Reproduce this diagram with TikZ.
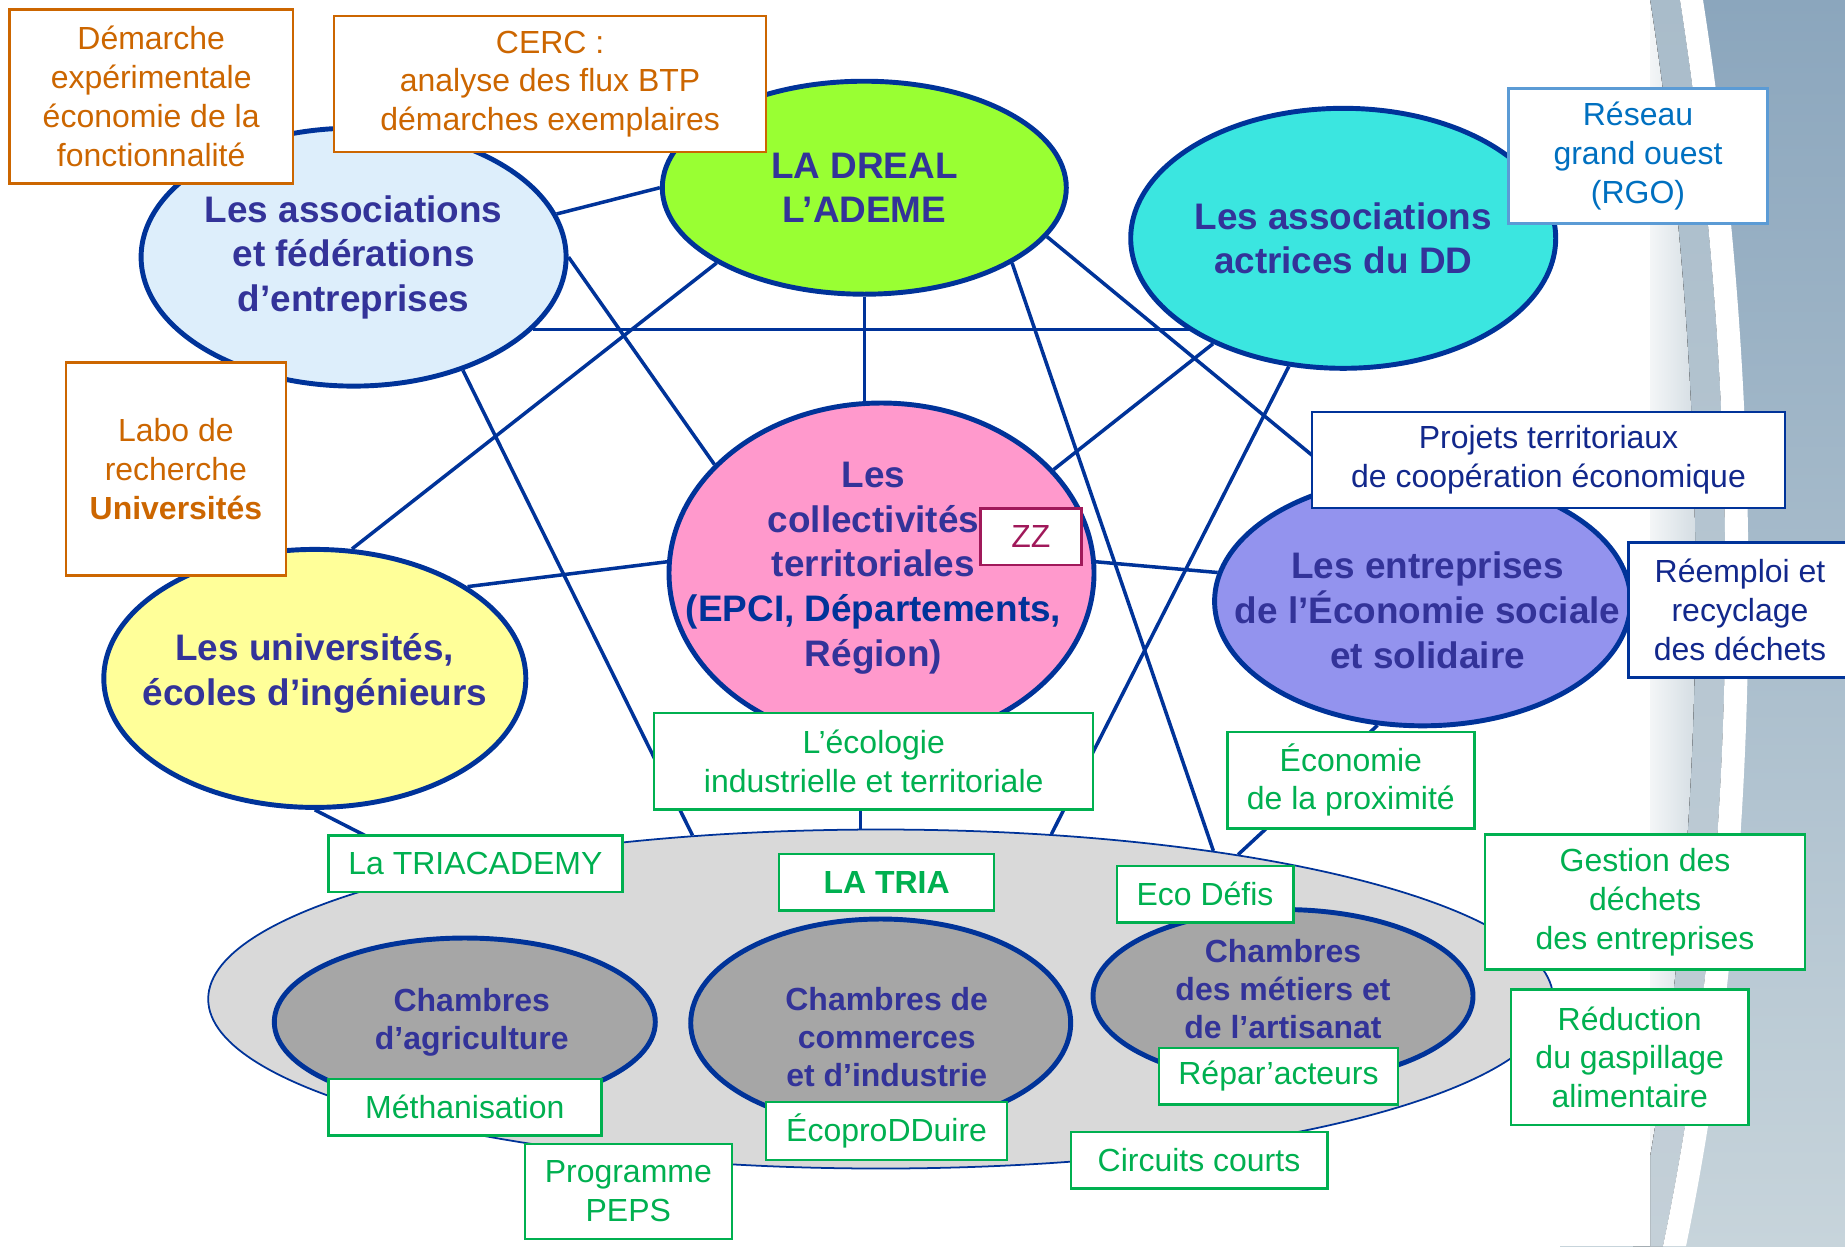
\documentclass[tikz,border=0pt]{standalone}
\usepackage{fontspec}
\setmainfont{Liberation Sans}
\usetikzlibrary{shapes.geometric}

\definecolor{navy}{HTML}{003399}
\definecolor{blobtext}{HTML}{333399}
\definecolor{boxorange}{HTML}{CC6600}
\definecolor{boxgreen}{HTML}{00B050}
\definecolor{rgoblue}{HTML}{0070C0}
\definecolor{rgoline}{HTML}{5B9BD5}
\definecolor{projtext}{HTML}{12288C}
\definecolor{zzred}{HTML}{A0195A}
\definecolor{fedfill}{HTML}{DDEEFB}
\definecolor{drealfill}{HTML}{99FF33}
\definecolor{ddfill}{HTML}{3BE6E0}
\definecolor{collfill}{HTML}{FF99CC}
\definecolor{univfill}{HTML}{FFFF99}
\definecolor{essfill}{HTML}{9393EE}
\definecolor{triafill}{HTML}{D9D9D9}
\definecolor{chamfill}{HTML}{A6A6A6}
\definecolor{bandtop}{HTML}{8BA6BD}
\definecolor{bandbot}{HTML}{C7D4DB}
\definecolor{stripetop}{HTML}{A9BCCA}
\definecolor{stripebot}{HTML}{C4D0D8}

\newcommand\boxtxt{\fontsize{9.1}{11.05}\selectfont}
\newcommand\blobtxt{\fontsize{10.5}{12.7}\selectfont\bfseries}
\newcommand\chamtxt{\fontsize{9.1}{10.9}\selectfont\bfseries}

\pgfdeclarelayer{bg}
\pgfdeclarelayer{links}
\pgfsetlayers{bg,links,main}

\tikzset{
  dims/.style 2 args={minimum width=#1cm, minimum height=#2cm},
  link/.style={draw=navy, line width=1pt},
  blob/.style={ellipse, draw=navy, line width=1.4pt, inner sep=0pt},
  blobcap/.style={align=center, text=blobtext, font=\blobtxt, inner sep=0pt},
  chamcap/.style={blobcap, font=\chamtxt},
  chamber/.style={blob, fill=chamfill},
  obox/.style={rectangle, draw=boxorange, fill=white, line width=0.7pt, inner sep=0pt,
    align=center, text=boxorange, font=\boxtxt},
  gbox/.style={obox, draw=boxgreen, text=boxgreen},
  rgobox/.style={obox, draw=rgoline, text=rgoblue},
  nbox/.style={obox, draw=navy, text=projtext},
  zzbox/.style={obox, draw=zzred, text=zzred}
}

\begin{document}
\begin{tikzpicture}[y=-1cm]
  \useasboundingbox (0,0) rectangle (18.45,12.46);

  % decorative band on the right
  \begin{pgfonlayer}{bg}
    \fill[top color=bandtop, bottom color=bandbot] (15.6,0) rectangle (18.45,12.46);
    \fill[top color=stripetop, bottom color=stripebot] (16.5,0) -- (16.8,0)
      .. controls (17.5,4.5) and (17.35,9) .. (16.63,12.46) -- (16.33,12.46)
      .. controls (17.05,9) and (17.2,4.5) .. (16.5,0) -- cycle;
    \fill[left color=white, right color=stripebot] (16.5,0)
      .. controls (17.2,4.5) and (17.05,9) .. (16.33,12.46) -- (16.5,12.46) -- cycle;
    \fill[white] (16.8,0) .. controls (17.5,4.5) and (17.35,9) .. (16.63,12.46)
      -- (16.86,12.46) .. controls (17.58,9) and (17.73,4.5) .. (17.03,0) -- cycle;
    \fill[white] (0,0) rectangle (16.5,12.46);
  \end{pgfonlayer}

  % la TRIA and the chambers
  \node[blob, fill=triafill, line width=0.5pt, dims={13.45}{3.39}] (tria) at (8.807, 9.99) {};
  \node[chamber, dims={3.81}{1.68},
    label={[chamcap, xshift=0.07cm]center:{Chambres\\d’agriculture}}] (agri) at (4.648, 10.22) {};
  \node[chamber, dims={3.80}{2.08},
    label={[chamcap, xshift=0.06cm, yshift=-0.14cm]center:{Chambres de\\commerces\\et d’industrie}}] (cci) at (8.807, 10.23) {};
  \node[chamber, dims={3.80}{1.73},
    label={[chamcap, yshift=0.07cm]center:{Chambres\\des métiers et\\de l’artisanat}}] (cma) at (12.83, 9.96) {};

  % the actors
  \node[blob, fill=fedfill, dims={4.25}{2.58},
    label={[blobcap]center:{Les associations\\et fédérations\\d’entreprises}}] (fed) at (3.536, 2.571) {};
  \node[blob, fill=drealfill, dims={4.04}{2.13},
    label={[blobcap]center:{LA DREAL\\L’ADEME}}] (dreal) at (8.643, 1.877) {};
  \node[blob, fill=ddfill, dims={4.25}{2.60},
    label={[blobcap]center:{Les associations\\actrices du DD}}] (dd) at (13.432, 2.383) {};
  \node[blob, fill=collfill, dims={4.25}{3.40},
    label={[blobcap, xshift=-0.08cm, yshift=0.05cm]center:{Les\\collectivités\\territoriales\\{\color{navy}(EPCI, Départements,}\\Région)}}] (coll) at (8.815, 5.73) {};
  \node[blob, fill=univfill, dims={4.22}{2.58},
    label={[blobcap, yshift=0.05cm]center:{Les universités,\\écoles d’ingénieurs}}] (univ) at (3.148, 6.784) {};
  \node[blob, fill=essfill, dims={4.16}{2.49},
    label={[blobcap, xshift=0.05cm, yshift=-0.09cm]center:{Les entreprises\\de l’Économie sociale\\et solidaire}}] (ess) at (14.226, 6.013) {};

  \begin{pgfonlayer}{links}
    \draw[link] (fed.12.9) -- (dreal.180);
    \draw[link] (fed.0) -- (coll.147.1);
    \draw[link] (fed.-22.85) -- (fed.-22.85 -| dd.center);
    \draw[link] (fed.-46.6) -- (tria.139.1);
    \draw[link] (dreal.207.8) -- (univ.74.5);
    \draw[link] (dreal.south) -- (dreal.south |- coll.center);
    \draw[link] (dreal.-15.4) -- (ess.123.9);
    \draw[link] (dreal.-27.97) -- (tria.24.2);
    \draw[link] (dd.219.9) -- (coll.31.7);
    \draw[link] (dd.247.7) -- (tria.44.3);
    \draw[link] (univ.31.4) -- (coll.177.9);
    \draw[link] (univ.-90) -- (tria.164.4);
    \draw[link] (coll.3.5) -- (ess.172.5);
    \draw[link] (ess.250.8) -- (tria.22.2);
    \draw[link] (coll.263) -- (coll.263 |- tria.north);
  \end{pgfonlayer}

  % orange boxes
  \node[obox, dims={2.836}{1.742}] (demarche) at (1.512, 0.965) {Démarche\\expérimentale\\économie de la\\fonctionnalité};
  \node[obox, dims={4.318}{1.365}] (cerc) at (5.501, 0.84) {CERC :\\analyse des flux BTP\\démarches exemplaires};
  \node[obox, dims={2.20}{2.13}] (labo) at (1.759, 4.689) {Labo de\\recherche\\\textbf{Universités}};

  % blue boxes
  \node[rgobox, dims={2.59}{1.353}] (rgo) at (16.38, 1.56) {Réseau\\grand ouest\\(RGO)};
  \node[nbox, dims={4.73}{0.965}] (projets) at (15.485, 4.60) {Projets territoriaux\\de coopération économique};
  \node[nbox, dims={2.23}{1.353}] (reemploi) at (17.40, 6.10) {Réemploi et\\recyclage\\des déchets};
  \node[zzbox, dims={1.01}{0.565}] (zz) at (10.308, 5.366) {ZZ};

  % green boxes
  \node[gbox, dims={4.39}{0.965}] (ecolo) at (8.737, 7.613) {L’écologie\\industrielle et territoriale};
  \node[gbox, dims={2.47}{0.965}] (prox) at (13.508, 7.80) {Économie\\de la proximité};
  \node[gbox, dims={2.94}{0.565}] (triacad) at (4.754, 8.637) {La TRIACADEMY};
  \node[gbox, dims={2.15}{0.565}] (latria) at (8.866, 8.82) {\textbf{LA TRIA}};
  \node[gbox, dims={1.765}{0.565}] (ecodefis) at (12.05, 8.94) {Eco Défis};
  \node[gbox, dims={3.20}{1.353}] (gestion) at (16.45, 9.02) {Gestion des\\déchets\\des entreprises};
  \node[gbox, dims={2.377}{1.353}] (reduc) at (16.297, 10.572) {Réduction\\du gaspillage\\alimentaire};
  \node[gbox, dims={2.39}{0.565}] (repar) at (12.785, 10.76) {Répar’acteurs};
  \node[gbox, dims={2.73}{0.565}] (metha) at (4.648, 11.072) {Méthanisation};
  \node[gbox, dims={2.41}{0.576}] (ecoprod) at (8.866, 11.31) {ÉcoproDDuire};
  \node[gbox, dims={2.565}{0.565}] (circuits) at (11.99, 11.602) {Circuits courts};
  \node[gbox, dims={2.07}{0.953}] (peps) at (6.283, 11.914) {Programme\\PEPS};
\end{tikzpicture}
\end{document}
